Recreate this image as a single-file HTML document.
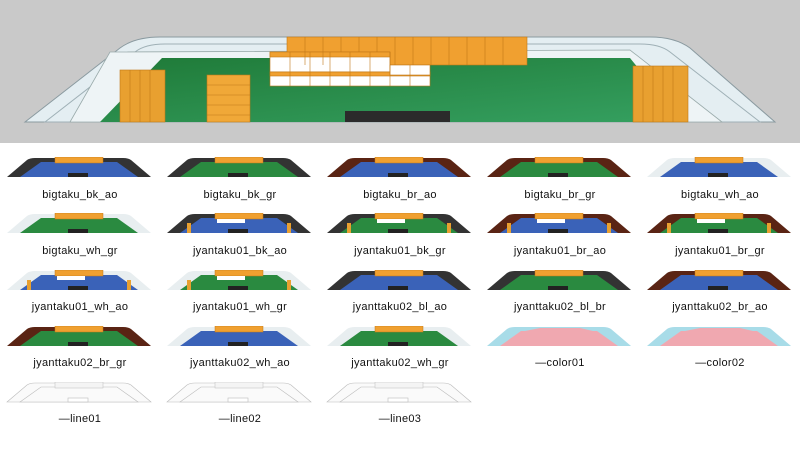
<!DOCTYPE html>
<html><head><meta charset="utf-8"><style>
body{margin:0;width:800px;height:450px;overflow:hidden;background:#fff;font-family:"Liberation Sans","DejaVu Sans",sans-serif}
#top{position:absolute;left:0;top:0;width:800px;height:143px;background:#c9c9c9}
.lbl{position:absolute;width:160px;text-align:center;font-size:11px;color:#111;letter-spacing:0.3px}
svg{position:absolute}
</style></head><body>
<div id="top">
<svg width="800" height="143" viewBox="0 0 800 143">
<defs><linearGradient id="g" x1="0" y1="0" x2="1" y2="1"><stop offset="0" stop-color="#1f7a38"/><stop offset="1" stop-color="#35a060"/></linearGradient></defs>
<path d="M25 122 L120 48 Q135 37 160 37 L650 37 Q675 37 690 48 L775 122 Z" fill="#e4eef2" stroke="#8a9aa0" stroke-width="1"/>
<path d="M45 122 L135 52 Q145 44 165 44 L640 44 Q660 44 670 52 L760 122 Z" fill="none" stroke="#9fb0b6" stroke-width="1"/>
<path d="M70 122 L110 52 L630 50 L722 122 Z" fill="#eef4f6" stroke="#9aa" stroke-width="0.8"/>
<path d="M100 122 L162 58 L630 58 L682 122 Z" fill="url(#g)"/>
<rect x="345" y="111" width="105" height="11" fill="#2b2b2b"/>
<g fill="#f0a030" stroke="#c07818" stroke-width="0.6">
<rect x="287" y="37" width="240" height="28"/>
</g>
<g stroke="#c07818" stroke-width="0.6">
<rect x="270" y="52" width="120" height="20" fill="#fff"/>
<rect x="270" y="52" width="120" height="5" fill="#f0a030"/>
<rect x="270" y="72" width="160" height="14" fill="#fff"/>
<rect x="270" y="72" width="160" height="4" fill="#f0a030"/>
<rect x="390" y="65" width="40" height="10" fill="#fff"/>
<rect x="120" y="70" width="45" height="52" fill="#e8a030"/>
<rect x="207" y="75" width="43" height="47" fill="#f0a838"/>
<rect x="633" y="66" width="55" height="56" fill="#e8a030"/>
</g>
<g stroke="#c07818" stroke-width="0.6">
<path d="M305 37V65M323 37V65M341 37V52M359 37V52M377 37V52M395 37V65M413 37V65M431 37V65M449 37V65M467 37V65M485 37V65M503 37V65"/>
<path d="M290 52V86M310 52V86M330 52V86M350 52V86M370 52V86M390 52V86M410 65V86"/>
<path d="M207 85H250M207 95H250M207 105H250M207 115H250"/>
<path d="M130 70V122M140 70V122M150 70V122M643 66V122M653 66V122M663 66V122M673 66V122"/>
</g>
</svg>
</div>
<div id="grid"></div>
<script>
var items=[
["bigtaku_bk_ao","#333","#3a62b8",0],["bigtaku_bk_gr","#333","#2a8a40",0],["bigtaku_br_ao","#5a2414","#3a62b8",0],["bigtaku_br_gr","#5a2414","#2a8a40",0],["bigtaku_wh_ao","#e8eef0","#3a62b8",0],
["bigtaku_wh_gr","#e8eef0","#2a8a40",0],["jyantaku01_bk_ao","#333","#3a62b8",1],["jyantaku01_bk_gr","#333","#2a8a40",1],["jyantaku01_br_ao","#5a2414","#3a62b8",1],["jyantaku01_br_gr","#5a2414","#2a8a40",1],
["jyantaku01_wh_ao","#e8eef0","#3a62b8",1],["jyantaku01_wh_gr","#e8eef0","#2a8a40",1],["jyanttaku02_bl_ao","#333","#3a62b8",0],["jyanttaku02_bl_br","#333","#2a8a40",0],["jyanttaku02_br_ao","#5a2414","#3a62b8",0],
["jyanttaku02_br_gr","#5a2414","#2a8a40",0],["jyanttaku02_wh_ao","#e8eef0","#3a62b8",0],["jyanttaku02_wh_gr","#e8eef0","#2a8a40",0],["\u2014color01","#a8dce8","#f0a8b0",2],["\u2014color02","#a8dce8","#f0a8b0",2],
["\u2014line01","#fafafa","#fafafa",3],["\u2014line02","#fafafa","#fafafa",3],["\u2014line03","#fafafa","#fafafa",3]];
var tops=[157,213,270,326,382],lbls=[189,245,301,357,413],h="";
items.forEach(function(it,i){var r=Math.floor(i/5),c=i%5,x=c*160+5,y=tops[r];
var line=it[3]==3,st=line?' stroke="#bbb" stroke-width="0.6"':'';
var s='<svg style="left:'+x+'px;top:'+y+'px" width="150" height="21">';
s+='<path d="M2 20 L22 3 Q25 1 30 1 L118 1 Q123 1 126 3 L146 20 Z" fill="'+it[1]+'"'+st+'/>';
s+='<path d="M15 20 L36 5 L112 5 L133 20 Z" fill="'+it[2]+'"'+st+'/>';
if(it[3]==2)s+='<path d="M40 5 L55 2 L95 2 L108 5 L125 20 L25 20 Z" fill="'+it[2]+'"/>';
else{s+='<rect x="50" y="0" width="48" height="6" fill="'+(line?'#f4f4f4':'#f0a030')+'" stroke="'+(line?'#bbb':'#c07818')+'" stroke-width="0.5"/>';
s+='<rect x="63" y="16" width="20" height="4" fill="'+(line?'#fff':'#222')+'"'+st+'/>';}
if(it[3]==1)s+='<rect x="52" y="6" width="28" height="4" fill="#fff"/><rect x="22" y="10" width="4" height="10" fill="#e8a030"/><rect x="122" y="10" width="4" height="10" fill="#e8a030"/>';
s+='</svg>';h+=s;
h+='<div class="lbl" style="left:'+(c*160)+'px;top:'+lbls[r]+'px">'+it[0]+'</div>';});
document.getElementById('grid').innerHTML=h;
</script>
</body></html>
